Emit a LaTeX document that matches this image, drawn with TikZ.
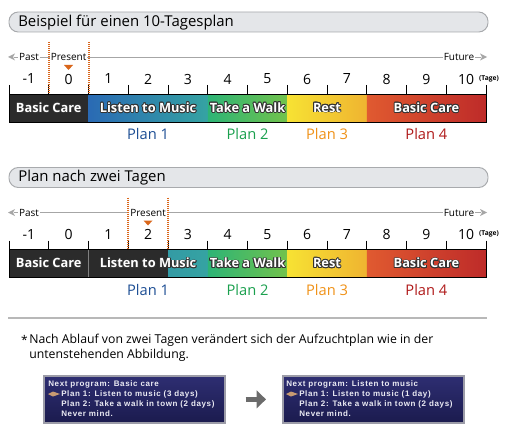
\documentclass[tikz,border=0pt]{standalone}
\usepackage{fontspec}
\setmainfont{Open Sans}
\newfontfamily\scrfont[LetterSpace=8]{Liberation Sans}
\usepackage{contour}
\contourlength{0.6pt}
\usetikzlibrary{arrows.meta}
\definecolor{hdrfill}{HTML}{E4E6E9}
\definecolor{hdrline}{HTML}{A8AAAD}
\definecolor{tline}{HTML}{A6A6A6}
\definecolor{pres}{HTML}{D9661A}
\definecolor{darkbar}{HTML}{2B2B2B}
\definecolor{outl}{HTML}{333333}
\definecolor{planA}{HTML}{1D4E94}
\definecolor{planB}{HTML}{1AA04E}
\definecolor{planC}{HTML}{F09218}
\definecolor{planD}{HTML}{B01A1A}
\definecolor{blueL}{HTML}{2A6AB4}
\definecolor{blueR}{HTML}{35A3A2}
\definecolor{greenL}{HTML}{2DB476}
\definecolor{greenR}{HTML}{72C24C}
\definecolor{yelL}{HTML}{F7E233}
\definecolor{yelR}{HTML}{EFB431}
\definecolor{redL}{HTML}{E05A30}
\definecolor{redR}{HTML}{BE2B29}
\definecolor{scrT}{HTML}{2E2E72}
\definecolor{scrB}{HTML}{1B1B4E}
\definecolor{scrE}{HTML}{9C9CA8}
\definecolor{scrtxt}{HTML}{ECECF4}
\definecolor{cursor}{HTML}{C89A72}
\tikzset{
 hdr/.style={draw=hdrline, fill=hdrfill, rounded corners=7pt, line width=0.7pt},
 hdrtext/.style={anchor=west, font=\fontsize{11.2}{12}\selectfont, inner sep=0},
 lbl/.style={font=\fontsize{7.5}{8}\selectfont, fill=white, inner sep=0.8pt},
 num/.style={font=\fontsize{10.5}{12}\selectfont, inner sep=0},
 tage/.style={font=\bfseries\fontsize{5}{6}\selectfont, inner sep=0},
 tickline/.style={line width=0.7pt, black},
 bartext/.style={font=\bfseries\fontsize{9.6}{12}\selectfont, text=white, inner sep=0},
 plan/.style={font=\fontsize{11}{12}\selectfont, inner sep=0},
 dotl/.style={draw=pres, line width=1.5pt, dash pattern=on 0.75pt off 0.75pt},
 scrbox/.style={draw=scrE, line width=1.3pt, top color=scrT, bottom color=scrB, anchor=north west, minimum width=135.75pt, minimum height=35.25pt, inner sep=0},
 scrline/.style={anchor=west, inner sep=0, text=scrtxt, font=\scrfont\bfseries\fontsize{6}{6}\selectfont},
 note/.style={anchor=west, inner sep=0, font=\fontsize{9.2}{11}\selectfont},
}
\newcommand{\TimeAxis}[1]{%
  \coordinate (pl#1) at (14,57);
  \coordinate (pr#1) at (481,57);
  \draw[tline, line width=0.7pt] (pl#1) -- (pr#1);
  \fill[tline] (8,57) -- (15,53.5) -- (13,57) -- (15,60.5) -- cycle;
  \fill[tline] (487,57) -- (480,53.5) -- (482,57) -- (480,60.5) -- cycle;
  \node[lbl] (past#1) at (29,57) {Past};
  \node[lbl] (fut#1) at (459,57) {Future};
  \foreach \i [count=\k from 0] in {-1,0,...,10} {
    \node[num] (n#1\k) at ({9+39.75*(\k+0.5)},79) {\i};
  }
  \node[tage] (tage#1) at (489,78.5) {(Tage)};
  \foreach \k in {0,...,12} {
    \coordinate (tt#1\k) at ({9+39.75*\k},85);
    \coordinate (tb#1\k) at ({9+39.75*\k},94);
    \draw[tickline] (tt#1\k) -- (tb#1\k);
  }
}
\begin{document}
\begin{tikzpicture}[x=0.75pt,y=-0.75pt]
\useasboundingbox[fill=white] (0,0) rectangle (510,435);

% ===== Section 1 =====
\draw[hdr] (9,12) rectangle (488,32);
\node[hdrtext] (h1) at (18,22.5) {Beispiel für einen 10-Tagesplan};
\coordinate (d1a) at (48.75,42); \coordinate (d1b) at (48.75,94);
\coordinate (d1c) at (88.5,42); \coordinate (d1d) at (88.5,94);
\TimeAxis{A}
\node[lbl] (presA) at (68.6,57) {Present};
\draw[dotl] (d1a) -- (d1b);
\draw[dotl] (d1c) -- (d1d);
\fill[pres] (64,65) -- (73,65) -- (68.5,70) -- cycle;
\fill[darkbar] (9,94) rectangle (88.5,122);
\shade[left color=blueL, right color=blueR] (88.5,94) rectangle (207.75,122);
\shade[left color=greenL, right color=greenR] (207.75,94) rectangle (287.25,122);
\shade[left color=yelL, right color=yelR] (287.25,94) rectangle (366.75,122);
\shade[left color=redL, right color=redR] (366.75,94) rectangle (486,122);
\draw[line width=0.7pt] (9,94) rectangle (486,122);
\node[bartext] (bA1) at (48.75,108) {\contour{outl}{Basic Care}};
\node[bartext] (bA2) at (148.1,108) {\contour{outl}{Listen to Music}};
\node[bartext] (bA3) at (247.5,108) {\contour{outl}{Take a Walk}};
\node[bartext] (bA4) at (327,108) {\contour{outl}{Rest}};
\node[bartext] (bA5) at (426.4,108) {\contour{outl}{Basic Care}};
\node[plan, text=planA] (pA1) at (148.1,134) {Plan 1};
\node[plan, text=planB] (pA2) at (247.5,134) {Plan 2};
\node[plan, text=planC] (pA3) at (327,134) {Plan 3};
\node[plan, text=planD] (pA4) at (426.4,134) {Plan 4};

% ===== Section 2 =====
\begin{scope}[shift={(0,155.5)}]
\draw[hdr] (9,12) rectangle (488,32);
\node[hdrtext] (h2) at (18,22.5) {Plan nach zwei Tagen};
\coordinate (d2a) at (128.25,42); \coordinate (d2b) at (128.25,94);
\coordinate (d2c) at (168,42); \coordinate (d2d) at (168,94);
\TimeAxis{B}
\node[lbl] (presB) at (148.1,57) {Present};
\draw[dotl] (d2a) -- (d2b);
\draw[dotl] (d2c) -- (d2d);
\fill[pres] (143.5,65) -- (152.5,65) -- (148,70) -- cycle;
\fill[darkbar] (9,94) rectangle (168,122);
\draw[gray, line width=0.7pt] (88.5,94) -- (88.5,122);
\shade[left color=blueR!85!blueL, right color=blueR] (168,94) rectangle (207.75,122);
\shade[left color=greenL, right color=greenR] (207.75,94) rectangle (287.25,122);
\shade[left color=yelL, right color=yelR] (287.25,94) rectangle (366.75,122);
\shade[left color=redL, right color=redR] (366.75,94) rectangle (486,122);
\draw[line width=0.7pt] (9,94) rectangle (486,122);
\node[bartext] (bB1) at (48.75,108) {\contour{outl}{Basic Care}};
\node[bartext] (bB2) at (148.1,108) {\contour{outl}{Listen to Music}};
\node[bartext] (bB3) at (247.5,108) {\contour{outl}{Take a Walk}};
\node[bartext] (bB4) at (327,108) {\contour{outl}{Rest}};
\node[bartext] (bB5) at (426.4,108) {\contour{outl}{Basic Care}};
\node[plan, text=planA] (pB1) at (148.1,134) {Plan 1};
\node[plan, text=planB] (pB2) at (247.5,134) {Plan 2};
\node[plan, text=planC] (pB3) at (327,134) {Plan 3};
\node[plan, text=planD] (pB4) at (426.4,134) {Plan 4};
\end{scope}

% ===== Separator and note =====
\coordinate (sepL) at (8,318);
\coordinate (sepR) at (487,318);
\draw[color=black!28, line width=1.3pt] (sepL) -- (sepR);
\node[anchor=center, inner sep=0, font=\fontsize{9}{10}\selectfont] (ast) at (24.5,340) {*};
\node[note] (nt1) at (29,340) {Nach Ablauf von zwei Tagen verändert sich der Aufzuchtplan wie in der};
\node[note] (nt2) at (29,355) {untenstehenden Abbildung.};

% ===== Screens =====
\node[scrbox] (scrA) at (43,375) {};
\node[scrbox] (scrB) at (282,375) {};
\draw[black!58, line width=3.6pt, -{Triangle[length=7pt,width=13pt]}, shorten <=15pt, shorten >=12pt] (scrA.east) -- (scrB.west);

\node[scrline] (a1) at (48,384) {Next program: Basic care};
\node[scrline] (a2) at (61,394) {Plan 1: Listen to music (3 days)};
\node[scrline] (a3) at (61,404) {Plan 2: Take a walk in town (2 days)};
\node[scrline] (a4) at (61,413.5) {Never mind.};
\fill[cursor] (48,394) -- (53,391.5) -- (60,394) -- (53,396.5) -- cycle;

\node[scrline] (b1) at (286,384) {Next program: Listen to music};
\node[scrline] (b2) at (299,394) {Plan 1: Listen to music (1 day)};
\node[scrline] (b3) at (299,404) {Plan 2: Take a walk in town (2 days)};
\node[scrline] (b4) at (299,413.5) {Never mind.};
\fill[cursor] (286,394) -- (291,391.5) -- (298,394) -- (291,396.5) -- cycle;
\end{tikzpicture}
\end{document}
